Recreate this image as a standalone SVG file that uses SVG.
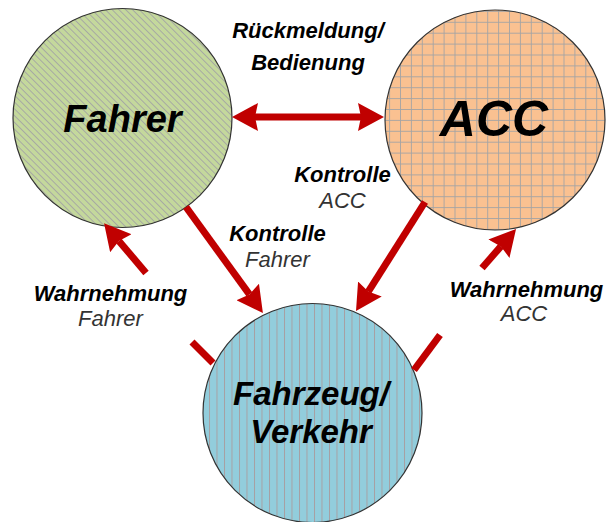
<svg xmlns="http://www.w3.org/2000/svg" width="606" height="522" viewBox="0 0 606 522">
  <defs>
    <style>
      .node { stroke: #333333; stroke-width: 1.2; }
      .title { font-family: "Liberation Sans", Arial, sans-serif; font-weight: bold; font-style: italic; fill: #000000; text-anchor: middle; }
      .lbl { font-family: "Liberation Sans", Arial, sans-serif; font-size: 22px; font-style: italic; text-anchor: middle; }
      .lbl .b { font-weight: bold; fill: #000000; }
      .lbl .n { font-weight: normal; fill: #333333; }
      .wire { stroke: #c00000; stroke-width: 7; fill: none; stroke-linecap: butt; }
    </style>
    <!-- diagonal hatch -->
    <pattern id="hatchDiag" patternUnits="userSpaceOnUse" width="4.8" height="4.8" patternTransform="rotate(-45)">
      <rect width="4.8" height="4.8" fill="#c4d89c"/>
      <line x1="0.5" y1="0" x2="0.5" y2="4.8" stroke="#a3a3a3" stroke-width="0.9"/>
    </pattern>
    <!-- square grid -->
    <pattern id="hatchGrid" patternUnits="userSpaceOnUse" width="10.9" height="10.9" patternTransform="translate(7.6 0)">
      <rect width="10.9" height="10.9" fill="#fac191"/>
      <line x1="0.5" y1="0" x2="0.5" y2="10.9" stroke="#a3a3a3" stroke-width="0.9"/>
      <line x1="0" y1="0.5" x2="10.9" y2="0.5" stroke="#a3a3a3" stroke-width="0.9"/>
    </pattern>
    <!-- vertical stripes -->
    <pattern id="hatchVert" patternUnits="userSpaceOnUse" width="7.5" height="7.5" patternTransform="translate(6.5 0)">
      <rect width="7.5" height="7.5" fill="#92cddc"/>
      <line x1="0.5" y1="0" x2="0.5" y2="7.5" stroke="#a89c9e" stroke-width="0.9"/>
    </pattern>
    <marker id="head" markerUnits="userSpaceOnUse" markerWidth="26" markerHeight="28" viewBox="0 0 26 28" refX="3" refY="14" orient="auto-start-reverse">
      <path d="M0,0 L26,14 L0,28 L3,14 z" fill="#c00000"/>
    </marker>
  </defs>

  <rect width="606" height="522" fill="#ffffff"/>

  <!-- nodes -->
  <g id="fahrer">
    <circle class="node" cx="122.5" cy="118" r="109.5" fill="url(#hatchDiag)"/>
    <text class="title" x="122.5" y="132" font-size="38">Fahrer</text>
  </g>
  <g id="acc">
    <circle class="node" cx="495" cy="120" r="110" fill="url(#hatchGrid)"/>
    <text class="title" x="494" y="136" font-size="50">ACC</text>
  </g>
  <g id="fahrzeug">
    <circle class="node" cx="312.5" cy="413" r="109.5" fill="url(#hatchVert)"/>
    <text class="title" x="311" y="405" font-size="33">Fahrzeug/</text>
    <text class="title" x="311" y="443" font-size="33">Verkehr</text>
  </g>

  <!-- connectors -->
  <g id="connectors">
    <line class="wire" x1="255" y1="117" x2="361" y2="117" marker-start="url(#head)" marker-end="url(#head)"/>
    <line class="wire" x1="186" y1="207" x2="249.4" y2="294.4" marker-end="url(#head)"/>
    <line class="wire" x1="146" y1="273" x2="118.9" y2="240.9" marker-end="url(#head)"/>
    <line class="wire" x1="425" y1="202" x2="368.3" y2="291.6" marker-end="url(#head)"/>
    <line class="wire" x1="482" y1="268" x2="500.9" y2="246.4" marker-end="url(#head)"/>
    <line class="wire" x1="192" y1="342" x2="213" y2="363"/>
    <line class="wire" x1="440" y1="335" x2="414" y2="370"/>
  </g>

  <!-- connector labels -->
  <g id="labels">
    <text class="lbl" x="308" y="38"><tspan class="b">Rückmeldung/</tspan></text>
    <text class="lbl" x="308" y="70"><tspan class="b">Bedienung</tspan></text>
    <text class="lbl" x="342.5" y="182"><tspan class="b">Kontrolle</tspan></text>
    <text class="lbl" x="342.5" y="208"><tspan class="n">ACC</tspan></text>
    <text class="lbl" x="277.5" y="241"><tspan class="b">Kontrolle</tspan></text>
    <text class="lbl" x="277.5" y="267"><tspan class="n">Fahrer</tspan></text>
    <text class="lbl" x="110.5" y="301"><tspan class="b">Wahrnehmung</tspan></text>
    <text class="lbl" x="110.5" y="326"><tspan class="n">Fahrer</tspan></text>
    <text class="lbl" x="526.5" y="297"><tspan class="b">Wahrnehmung</tspan></text>
    <text class="lbl" x="524" y="321"><tspan class="n">ACC</tspan></text>
  </g>
</svg>
